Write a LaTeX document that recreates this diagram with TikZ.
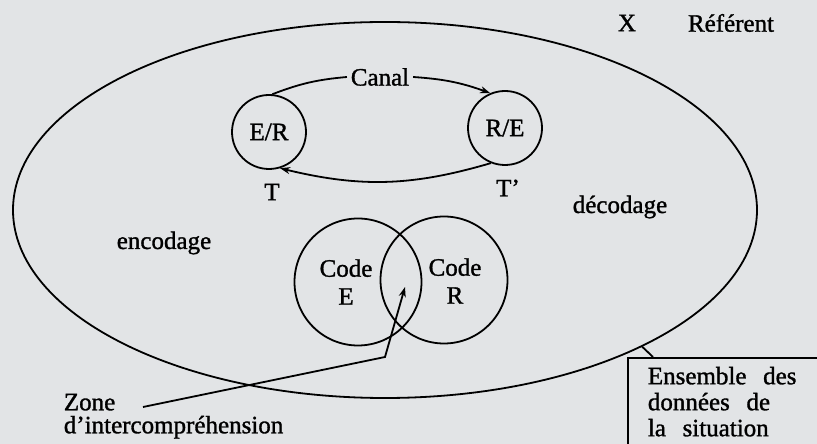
\documentclass[tikz,border=0pt]{standalone}
\usepackage{fontspec}
\setmainfont{Liberation Serif}[AutoFakeBold=1.2]
\usetikzlibrary{arrows.meta,shapes.geometric}
\definecolor{papier}{RGB}{226,228,230}
\begin{document}
\begin{tikzpicture}[x=1pt,y=1pt,>={Stealth[length=10pt,width=7pt]},line width=1.8pt,
		font=\fontsize{25}{26}\selectfont\bfseries,
		role/.style={circle,draw,minimum size=74pt,inner sep=0pt},
		codecercle/.style={circle,draw,minimum size=127pt,inner sep=0pt}]
		\fill[papier] (0,0) rectangle (817,444);
		\useasboundingbox (0,0) rectangle (817,444);
		\clip (0,0) rectangle (817,444);
		\node[ellipse,draw,minimum width=744pt,minimum height=376pt,inner sep=0pt] (situation) at (385,234) {};
		\node[role] (er) at (269,312) {E/R};
		\node[role] (re) at (505,316) {R/E};
		\node[inner xsep=3pt] (canal) at (380,367) {Canal};
		\draw (er.85) to[bend left=8] (canal.west);
		\draw[->] (canal.east) to[bend left=8] (re.113);
		\draw[->] (re.-112) to[bend left=15] (er.-73);
		\node (t) at (272,252) {T};
		\node (tprime) at (508,256) {T'};
		\node (encodage) at (164,201) {encodage};
		\node (decodage) at (620,237) {décodage};
		\node (x) at (627,421) {X};
		\node (referent) at (731,421) {Référent};
		\node[codecercle] (codeE) at (358,162) {};
		\node[codecercle] (codeR) at (444,164) {};
		\node[align=center] (labelE) at (346,162) {Code\\[2pt]E};
		\node[align=center] (labelR) at (455,163) {Code\\[2pt]R};
		\node[anchor=north west,align=left,inner sep=0pt,font=\fontsize{25}{23}\selectfont\bfseries] (zone) at (63,51) {Zone\\d'intercompréhension};
		\coordinate (zonedepart) at (143,37);
		\coordinate (zonecoude) at (385,87);
		\coordinate (inter) at (405,157);
		\draw[->] (zonedepart) -- (zonecoude) -- (inter);
		\node[draw,anchor=north west,align=left,inner xsep=20pt,inner ysep=9pt,text width=180pt] (donnees) at (627,87) {Ensemble\ \ des\\données\ \ de\\la\ \ situation\rule[-50pt]{0pt}{1pt}};
		\draw ([xshift=26pt]donnees.north west) -- (situation.-28);
	\end{tikzpicture}
\end{document}
